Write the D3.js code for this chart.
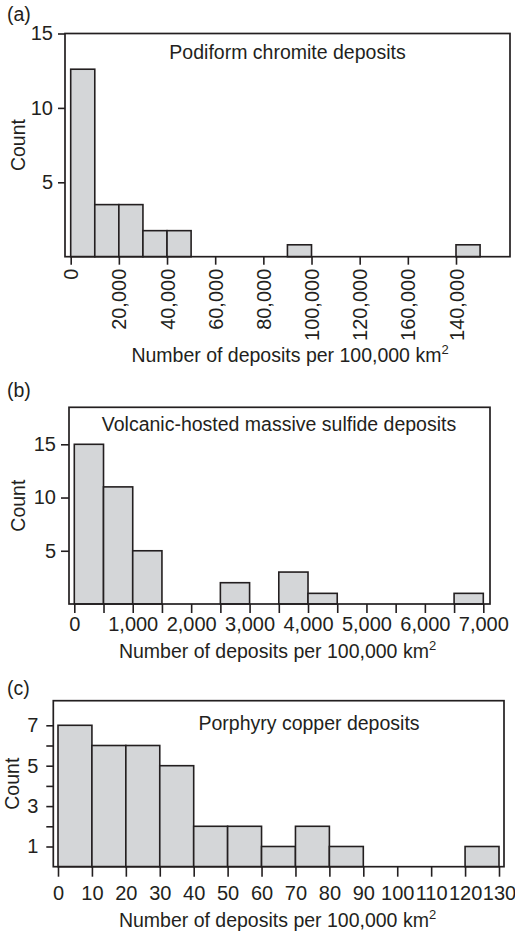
<!DOCTYPE html>
<html>
<head>
<meta charset="utf-8">
<script src="https://cdn.jsdelivr.net/npm/d3@7"></script>
<style>
  body { margin: 0; background: #fff; }
  svg text { font-family: "Liberation Sans", Arial, Helvetica, sans-serif; fill: #231f20; }
</style>
</head>
<body>
<div id="chart"></div>
<script>
// (a) Podiform chromite deposits
const chromiteBinStart = [0, 10000, 20000, 30000, 40000, 90000, 160000];
const chromiteCounts = [12.6, 3.5, 3.5, 1.75, 1.75, 0.8, 0.8];
const chromiteXTicks = [0, 20000, 40000, 60000, 80000, 100000, 120000, 140000, 160000];
const chromiteXLabels = ["0", "20,000", "40,000", "60,000", "80,000", "100,000", "120,000", "160,000", "140,000"];
const chromiteYTicks = [5, 10, 15];
const chromiteYLabels = ["5", "10", "15"];

// (b) Volcanic-hosted massive sulfide deposits
const vmsBinStart = [0, 500, 1000, 2500, 3500, 4000, 6500];
const vmsCounts = [15, 11, 5, 2, 3, 1, 1];
const vmsXTicks = [0, 500, 1000, 1500, 2000, 2500, 3000, 3500, 4000, 4500, 5000, 5500, 6000, 6500, 7000];
const vmsXLabels = ["0", "", "1,000", "", "2,000", "", "3,000", "", "4,000", "", "5,000", "", "6,000", "", "7,000"];
const vmsYTicks = [5, 10, 15];
const vmsYLabels = ["5", "10", "15"];

// (c) Porphyry copper deposits
const copperBinStart = [0, 10, 20, 30, 40, 50, 60, 70, 80, 120];
const copperCounts = [7, 6, 6, 5, 2, 2, 1, 2, 1, 1];
const copperXTicks = [0, 10, 20, 30, 40, 50, 60, 70, 80, 90, 100, 110, 120, 130];
const copperXLabels = ["0", "10", "20", "30", "40", "50", "60", "70", "80", "90", "100", "110", "120", "130"];
const copperYTicks = [1, 2, 3, 4, 5, 6, 7];
const copperYLabels = ["1", "", "3", "", "5", "", "7"];

const ink = "#231f20";
const barFill = "#d4d6d8";
const fontSize = 19.5;
const tickFontSize = 20;

const panels = [
  {
    tag: "(a)", tagY: 21, title: "Podiform chromite deposits", titleX: 287.5, titleY: 58.5,
    binStart: chromiteBinStart, counts: chromiteCounts, binWidth: 10000,
    xTicks: chromiteXTicks, xLabels: chromiteXLabels, yTicks: chromiteYTicks, yLabels: chromiteYLabels,
    frame: {l: 65, r: 510, t: 33.5, b: 256.7},
    xDomain: [0, 160000], xRange: [70.7, 456],
    yDomain: [0, 15], yRange: [256.7, 33.5],
    xTickSize: 8, xPad: 4, rotate: true, yTickSize: 7, yPad: 5,
    countX: 25, xTitleX: 290, xTitleY: 361.5
  },
  {
    tag: "(b)", tagY: 397, title: "Volcanic-hosted massive sulfide deposits", titleX: 279, titleY: 431,
    binStart: vmsBinStart, counts: vmsCounts, binWidth: 500,
    xTicks: vmsXTicks, xLabels: vmsXLabels, yTicks: vmsYTicks, yLabels: vmsYLabels,
    frame: {l: 69, r: 490, t: 407.3, b: 604},
    xDomain: [0, 7000], xRange: [74.3, 483.3],
    yDomain: [0, 15], yRange: [604, 444.3],
    xTickSize: 9, xPad: 4, rotate: false, yTickSize: 8, yPad: 5,
    countX: 25, xTitleX: 277.5, xTitleY: 658
  },
  {
    tag: "(c)", tagY: 695, title: "Porphyry copper deposits", titleX: 309, titleY: 729.5,
    binStart: copperBinStart, counts: copperCounts, binWidth: 10,
    xTicks: copperXTicks, xLabels: copperXLabels, yTicks: copperYTicks, yLabels: copperYLabels,
    frame: {l: 53.3, r: 504, t: 700.7, b: 866.7},
    xDomain: [0, 130], xRange: [58, 499],
    yDomain: [0, 7], yRange: [866.7, 725.3],
    xTickSize: 10, xPad: 9, rotate: false, yTickSize: 7, yPad: 8,
    countX: 18.5, xTitleX: 277.5, xTitleY: 927
  }
];

const svg = d3.select("#chart").append("svg")
  .attr("width", 515)
  .attr("height", 933);

panels.forEach(function(p) {
  const g = svg.append("g");
  const x = d3.scaleLinear().domain(p.xDomain).range(p.xRange);
  const y = d3.scaleLinear().domain(p.yDomain).range(p.yRange);

  // bars
  g.selectAll(".bar")
    .data(p.binStart)
    .enter().append("rect")
      .attr("class", "bar")
      .attr("x", function(d) { return x(d) })
      .attr("width", function(d) { return x(d + p.binWidth) - x(d) })
      .attr("y", function(d, i) { return y(p.counts[i]) })
      .attr("height", function(d, i) { return y(0) - y(p.counts[i]) })
      .attr("fill", barFill)
      .attr("stroke", ink)
      .attr("stroke-width", 1.6);

  // box
  g.append("rect")
    .attr("x", p.frame.l).attr("y", p.frame.t)
    .attr("width", p.frame.r - p.frame.l).attr("height", p.frame.b - p.frame.t)
    .attr("fill", "none").attr("stroke", ink).attr("stroke-width", 1.7);

  // x axis
  const xAxis = d3.axisBottom(x)
    .tickValues(p.xTicks)
    .tickFormat(function(d, i) { return p.xLabels[i] })
    .tickSize(p.xTickSize)
    .tickPadding(p.xPad)
    .tickSizeOuter(0);

  const gx = g.append("g")
    .attr("transform", "translate(0," + p.frame.b + ")")
    .attr("color", ink)
    .call(xAxis);
  gx.select(".domain").remove();
  gx.selectAll("line").attr("stroke-width", 1.6);
  gx.attr("font-size", tickFontSize).attr("font-family", null);
  if (p.rotate) {
    gx.selectAll("text")
      .attr("transform", "rotate(-90)")
      .attr("text-anchor", "end")
      .attr("x", -(p.xTickSize + p.xPad))
      .attr("y", 0)
      .attr("dy", "0.35em");
  }

  // y axis
  const yAxis = d3.axisLeft(y)
    .tickValues(p.yTicks)
    .tickFormat(function(d, i) { return p.yLabels[i] })
    .tickSize(p.yTickSize)
    .tickPadding(p.yPad)
    .tickSizeOuter(0);

  const gy = g.append("g")
    .attr("transform", "translate(" + p.frame.l + ",0)")
    .attr("color", ink)
    .call(yAxis);
  gy.select(".domain").remove();
  gy.selectAll("line").attr("stroke-width", 1.6);
  gy.attr("font-size", tickFontSize).attr("font-family", null);

  // labels
  g.append("text")
    .text(p.tag)
    .attr("x", 7)
    .attr("y", p.tagY)
    .attr("font-size", fontSize);

  g.append("text")
    .text(p.title)
    .attr("x", p.titleX)
    .attr("y", p.titleY)
    .attr("text-anchor", "middle")
    .attr("font-size", fontSize);

  g.append("text")
    .text("Count")
    .attr("transform", "translate(" + p.countX + "," + (p.frame.t + p.frame.b) / 2 + ") rotate(-90)")
    .attr("text-anchor", "middle")
    .attr("font-size", fontSize);

  const xt = g.append("text")
    .attr("x", p.xTitleX)
    .attr("y", p.xTitleY)
    .attr("text-anchor", "middle")
    .attr("font-size", fontSize);
  xt.append("tspan").text("Number of deposits per 100,000 km");
  xt.append("tspan").text("2").attr("font-size", 13).attr("dy", -8);
});
</script>
</body>
</html>
